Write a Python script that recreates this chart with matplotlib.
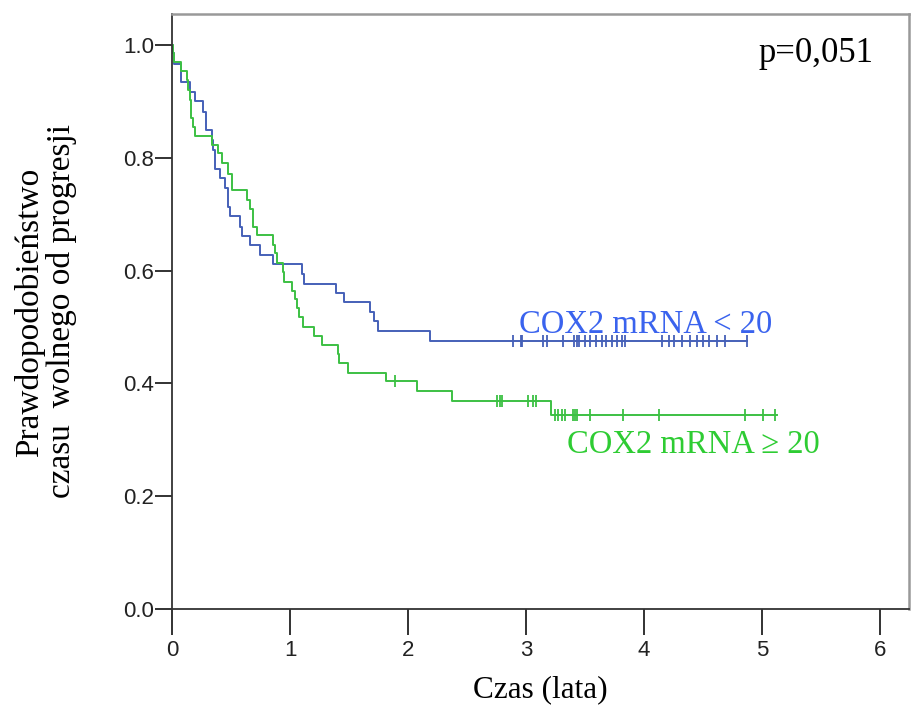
import matplotlib
matplotlib.use('Agg')
import matplotlib.pyplot as plt

# krzywa Kaplana-Meiera, COX2 mRNA < 20 (czas w latach, przezycie po zdarzeniu)
blue_t = [0.0, 0.01, 0.02, 0.08, 0.15, 0.195, 0.265, 0.29, 0.336, 0.35, 0.365,
          0.41, 0.45, 0.477, 0.49, 0.576, 0.59, 0.66, 0.746, 0.859, 1.10, 1.12,
          1.39, 1.46, 1.678, 1.715, 1.743, 2.186]
blue_s = [1.0, 0.985, 0.967, 0.935, 0.917, 0.900, 0.882, 0.849, 0.832, 0.814, 0.781,
          0.764, 0.746, 0.713, 0.696, 0.678, 0.661, 0.645, 0.628, 0.611, 0.594, 0.577,
          0.561, 0.544, 0.527, 0.510, 0.493, 0.476]
blue_end = 4.87
blue_cens = [2.887, 2.955, 2.966, 3.147, 3.176, 3.316, 3.409, 3.43, 3.449, 3.5, 3.542,
             3.593, 3.642, 3.678, 3.726, 3.769, 3.811, 3.839, 4.15, 4.212, 4.254,
             4.325, 4.39, 4.447, 4.503, 4.554, 4.616, 4.686, 4.87]

# COX2 mRNA >= 20
green_t = [0.0, 0.01, 0.02, 0.08, 0.124, 0.138, 0.15, 0.16, 0.165, 0.18, 0.195,
           0.336, 0.39, 0.42, 0.477, 0.506, 0.51, 0.633, 0.661, 0.684, 0.69, 0.718,
           0.859, 0.87, 0.887, 0.94, 0.95, 1.02, 1.04, 1.06, 1.076, 1.11, 1.20, 1.27,
           1.41, 1.415, 1.49, 1.81, 2.08, 2.37, 3.21]
green_s = [1.0, 0.985, 0.970, 0.954, 0.938, 0.920, 0.903, 0.887, 0.870, 0.855, 0.839,
           0.823, 0.808, 0.790, 0.772, 0.756, 0.743, 0.725, 0.710, 0.696, 0.678, 0.663,
           0.645, 0.631, 0.613, 0.598, 0.580, 0.564, 0.549, 0.533, 0.518, 0.500, 0.484,
           0.468, 0.452, 0.436, 0.419, 0.404, 0.387, 0.369, 0.344]
green_end = 5.13
green_cens = [1.89, 2.75, 2.78, 2.80, 3.02, 3.06, 3.08, 3.246, 3.274, 3.302, 3.331,
              3.396, 3.415, 3.435, 3.542, 3.819, 4.13, 4.856, 5.011, 5.11]

xticks = [0, 1, 2, 3, 4, 5, 6]
yticks = [0.0, 0.2, 0.4, 0.6, 0.8, 1.0]

blue_line = '#4560b8'
green_line = '#3cc043'
serif = ['Liberation Serif', 'DejaVu Serif']


def surv_at(t, ts, ss):
    # wartosc krzywej schodkowej w chwili t
    val = ss[0]
    for tt, s in zip(ts, ss):
        if tt <= t:
            val = s
    return val


fig = plt.figure(figsize=(9.11, 7.13), dpi=100)
ax = fig.add_axes([0.1888, 0.1459, 0.8092, 0.8345])

for ts, ss, end, cens, col in [(blue_t, blue_s, blue_end, blue_cens, blue_line),
                               (green_t, green_s, green_end, green_cens, green_line)]:
    ax.step(ts + [end], ss + [ss[-1]], where='post', color=col, lw=1.4)
    cy = [surv_at(c, ts, ss) for c in cens]
    ax.plot(cens, cy, ls='none', marker='|', ms=8, mew=1.3, color=col)

ax.set_xlim(0, 6.246)
ax.set_ylim(0, 1.055)
ax.set_xticks(xticks)
ax.set_xticklabels([str(v) for v in xticks])
ax.set_yticks(yticks)
ax.set_yticklabels(['%.1f' % v for v in yticks])
ax.tick_params(axis='x', length=19, width=1.3, pad=3, labelsize=16, colors='#222222')
ax.tick_params(axis='y', length=12, width=1.3, pad=1, labelsize=16, colors='#222222')
for lab in ax.get_xticklabels() + ax.get_yticklabels():
    lab.set_family(['Liberation Sans', 'DejaVu Sans'])

for side in ['left', 'bottom']:
    ax.spines[side].set_color('#333333')
    ax.spines[side].set_linewidth(1.3)
for side in ['top', 'right']:
    ax.spines[side].set_color('#999999')
    ax.spines[side].set_linewidth(1.8)

ax.text(2.94, 0.49, 'COX2 mRNA < 20', color='#3a63ee', fontsize=23.5,
        family=serif, va='baseline')
ax.text(3.35, 0.277, 'COX2 mRNA \u2265 20', color='#2ecc33', fontsize=23.5,
        family=serif, va='baseline')
ax.text(4.97, 0.97, 'p=0,051', color='black', fontsize=25, family=serif, va='baseline')

fig.text(30 / 911, 1 - 312 / 713, 'Prawdopodobieństwo', rotation=90, fontsize=24,
         family=serif, ha='center', va='center')
fig.text(62 / 911, 1 - 311 / 713, 'czasu  wolnego od progresji', rotation=90, fontsize=24,
         family=serif, ha='center', va='center')
fig.text(540 / 911, 1 - 690 / 713, 'Czas (lata)', fontsize=22.5, family=serif,
         ha='center', va='center')

fig.savefig('out.png', dpi=100)
